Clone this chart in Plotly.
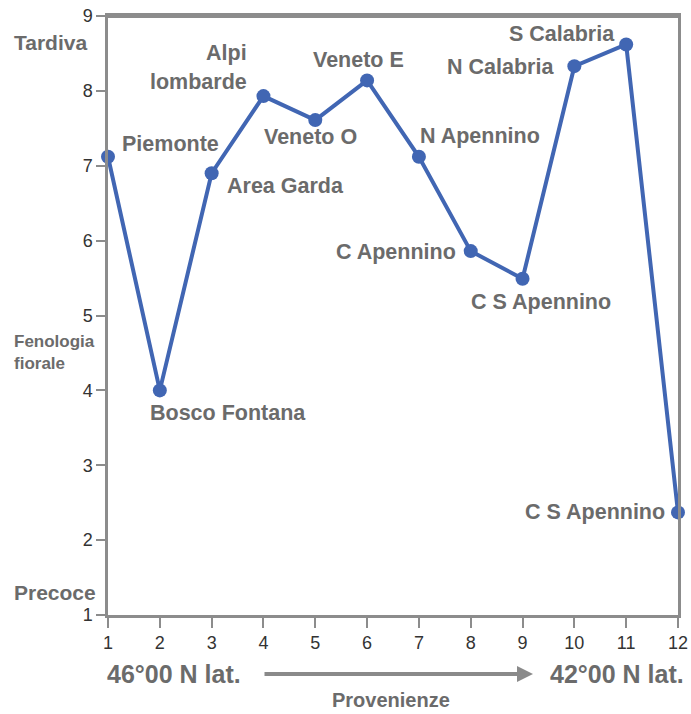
import plotly.graph_objects as go

provenienze = [1, 2, 3, 4, 5, 6, 7, 8, 9, 10, 11, 12]
fenologia = [7.12, 4.0, 6.9, 7.93, 7.61, 8.14, 7.12, 5.86, 5.49, 8.33, 8.62, 2.37]
etichette = ["Piemonte", "Bosco Fontana", "Area Garda", "Alpi<br>lombarde", "Veneto O",
             "Veneto E", "N Apennino", "C Apennino", "C S Apennino", "N Calabria",
             "S Calabria", "C S Apennino"]
x_ticks = list(range(1, 13))
y_ticks = list(range(1, 10))

# label placement: (xanchor, xshift, yshift)
placement = [
    ("left", 12, 13), ("left", -12, -23), ("left", 13, -13), ("right", -14, 14),
    ("center", -5, -17), ("center", -9, 20), ("left", -1, 21), ("right", -13, -1),
    ("center", 18, -23), ("right", -18, -1), ("right", -9, 10), ("right", -11, 0),
]

LINE = "#4166b3"
GRAY = "#8c8c8c"
TXT = "#6b6b6b"
FONT = "Liberation Sans, Arial, sans-serif"
LSIZE = 21.5

fig = go.Figure()
fig.add_trace(go.Scatter(
    x=provenienze, y=fenologia, mode="lines+markers",
    line=dict(color=LINE, width=4),
    marker=dict(color=LINE, size=14),
    cliponaxis=False, hoverinfo="skip", showlegend=False,
))

annotations = []
for xi, yi, lab, (xa, xs, ys) in zip(provenienze, fenologia, etichette, placement):
    parts = lab.split("<br>")
    for k, part in enumerate(parts):
        annotations.append(dict(x=xi, y=yi, text=part, showarrow=False, xanchor=xa,
                                yanchor="middle", xshift=xs,
                                yshift=ys + 29 * (len(parts) - 1 - k),
                                font=dict(family=FONT, size=LSIZE, color=TXT, weight="bold")))

L, R, T, B = 108, 678, 16, 615
W = R - L
H = B - T


def px(x):
    return (x - L) / W


def py(y):
    return (B - y) / H


side = [("Tardiva", 12, 42, 21), ("Precoce", 12, 592, 21)]
for txt, xx, yy, sz in side:
    annotations.append(dict(xref="paper", yref="paper", x=px(xx), y=py(yy), text=txt,
                            showarrow=False, xanchor="left", yanchor="middle",
                            font=dict(family=FONT, size=sz, color=TXT, weight="bold")))
annotations.append(dict(xref="paper", yref="paper", x=px(12), y=py(352),
                        text="Fenologia<br>fiorale", showarrow=False, xanchor="left",
                        yanchor="middle", align="left",
                        font=dict(family=FONT, size=17, color=TXT, weight="bold")))
annotations.append(dict(xref="paper", yref="paper", x=px(105), y=py(674),
                        text="46°00 N lat.", showarrow=False, xanchor="left",
                        yanchor="middle",
                        font=dict(family=FONT, size=25, color=TXT, weight="bold")))
annotations.append(dict(xref="paper", yref="paper", x=px(548), y=py(674),
                        text="42°00 N lat.", showarrow=False, xanchor="left",
                        yanchor="middle",
                        font=dict(family=FONT, size=25, color=TXT, weight="bold")))
annotations.append(dict(xref="paper", yref="paper", x=px(391), y=py(700),
                        text="Provenienze", showarrow=False, xanchor="center",
                        yanchor="middle",
                        font=dict(family=FONT, size=20, color=TXT, weight="bold")))
annotations.append(dict(xref="paper", yref="paper", x=px(533), y=py(674),
                        ax=-270, ay=0, text="", showarrow=True, arrowhead=2,
                        arrowsize=0.8, arrowwidth=4, arrowcolor="#8a8a8a"))

fig.update_layout(
    width=691, height=714,
    margin=dict(l=L, r=691 - R, t=T, b=714 - B),
    paper_bgcolor="white", plot_bgcolor="white",
    annotations=annotations,
    xaxis=dict(range=[1, 12], tickvals=x_ticks, showgrid=False, zeroline=False,
               automargin=False,
               showline=True, mirror=True, linecolor=GRAY, linewidth=2.5,
               ticks="outside", ticklen=10, tickcolor=GRAY, tickwidth=2,
               tickfont=dict(family=FONT, size=18, color="#333333")),
    yaxis=dict(range=[1, 9], tickvals=y_ticks, showgrid=False, zeroline=False,
               automargin=False,
               showline=True, mirror=True, linecolor=GRAY, linewidth=2.5,
               ticks="outside", ticklen=9, tickcolor=GRAY, tickwidth=2,
               tickfont=dict(family=FONT, size=18, color="#333333")),
    shapes=[dict(type="line", xref="paper", yref="paper", x0=0, x1=1, y0=1, y1=1,
                 line=dict(color=GRAY, width=4))],
)

fig.write_html("out.html", config={"displayModeBar": False},
               post_script="document.body.style.margin='0';")
